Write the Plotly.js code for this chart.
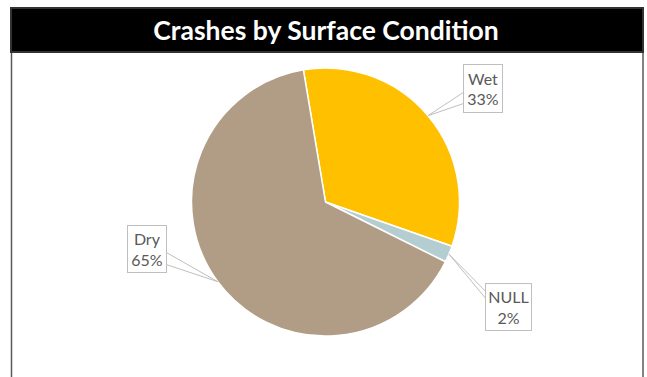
<!DOCTYPE html>
<html>
<head>
<meta charset="utf-8">
<script src="https://cdn.plot.ly/plotly-3.0.1.min.js"></script>
<style>
  html, body { margin: 0; padding: 0; background: #ffffff; }
  #chart { width: 647px; height: 377px; }
</style>
</head>
<body>
<div id="chart"></div>
<script>
// Crash share by road surface condition (percent)
const categories = ['Wet', 'NULL', 'Dry'];
const shares = [33, 2, 65];
const sliceColors = ['#FFC000', '#B4CDD1', '#B19D86'];

// Page geometry (pixels)
const W = 647, H = 377;
const pieCx = 325.5, pieCy = 202, pieR = 134;
const startAngle = -9.5; // first slice starts just left of 12 o'clock

// Callout boxes: centre offset from the slice anchor, box size, and where the
// leader wedge meets the box (side x offset, two y offsets from box centre)
const callouts = [
  { dx: 55,  dy: -27, w: 40, h: 49, side: -20, y1: 4,  y2: 15 },
  { dx: 60,  dy: 53,  w: 47, h: 48, side: -23.5, y1: -16, y2: -9 },
  { dx: -71, dy: -33, w: 40, h: 48, side: 20,  y1: 4,  y2: 16 }
];

const px = x => x / W;
const py = y => 1 - y / H;

const total = shares.reduce((a, b) => a + b, 0);
const annotations = [];
const shapes = [];

// Title bar and chart frame
shapes.push({
  type: 'rect', xref: 'paper', yref: 'paper',
  x0: px(11), x1: px(643), y0: py(8), y1: py(52),
  fillcolor: '#000000', line: { color: '#333333', width: 2 }, layer: 'below'
});
shapes.push({
  type: 'line', xref: 'paper', yref: 'paper',
  x0: px(11.5), x1: px(11.5), y0: py(53), y1: py(377),
  line: { color: '#595959', width: 1.5 }
});
shapes.push({
  type: 'line', xref: 'paper', yref: 'paper',
  x0: px(643), x1: px(643), y0: py(53), y1: py(377),
  line: { color: '#595959', width: 1.5 }
});

// Labels with leader wedges anchored at each slice's mid-angle on the rim
let cum = 0;
shares.forEach((v, i) => {
  const mid = (startAngle + (cum + v / 2) / total * 360) * Math.PI / 180;
  cum += v;
  const ax = pieCx + pieR * Math.sin(mid);
  const ay = pieCy - pieR * Math.cos(mid);
  const c = callouts[i];
  const bx = ax + c.dx, by = ay + c.dy;
  const sx = bx + c.side;
  shapes.push({
    type: 'path', xref: 'paper', yref: 'paper',
    path: `M ${px(sx)},${py(by + c.y1)} L ${px(ax)},${py(ay)} L ${px(sx)},${py(by + c.y2)}`,
    line: { color: '#BFBFBF', width: 1 }
  });
  annotations.push({
    xref: 'paper', yref: 'paper', x: px(bx), y: py(by),
    xanchor: 'center', yanchor: 'middle', showarrow: false,
    text: categories[i] + '<br>' + Math.round(v / total * 100) + '%',
    width: c.w - 2, height: c.h - 2, borderpad: 0,
    bordercolor: '#BFBFBF', borderwidth: 1, bgcolor: '#FFFFFF',
    font: { family: 'Lato, sans-serif', size: 16, color: '#595959' }
  });
});

const trace = {
  type: 'pie',
  labels: categories,
  values: shares,
  sort: false,
  direction: 'clockwise',
  rotation: startAngle,
  textinfo: 'none',
  hoverinfo: 'label+percent',
  marker: { colors: sliceColors, line: { color: '#FFFFFF', width: 1.5 } },
  domain: {
    x: [px(pieCx - pieR), px(pieCx + pieR)],
    y: [py(pieCy + pieR), py(pieCy - pieR)]
  },
  showlegend: false
};

const layout = {
  width: W, height: H,
  margin: { l: 0, r: 0, t: 0, b: 0 },
  paper_bgcolor: '#FFFFFF',
  title: {
    text: '<b>Crashes by Surface Condition</b>',
    x: px(326), xanchor: 'center',
    y: py(31), yanchor: 'middle', yref: 'paper',
    font: { family: 'Lato, sans-serif', size: 26.5, color: '#FFFFFF' }
  },
  shapes: shapes,
  annotations: annotations
};

Plotly.newPlot('chart', [trace], layout, { displayModeBar: false, staticPlot: true });
</script>
</body>
</html>
